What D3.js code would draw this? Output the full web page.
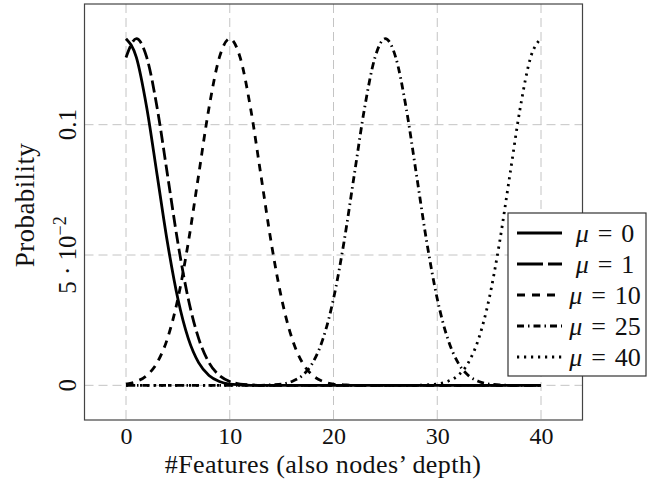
<!DOCTYPE html>
<html>
<head>
<meta charset="utf-8">
<script src="https://cdnjs.cloudflare.com/ajax/libs/d3/7.8.5/d3.min.js"></script>
<style>
  body { margin: 0; background: #fff; }
  text { font-family: "Liberation Serif", "DejaVu Serif", serif; fill: #111; }
</style>
</head>
<body>
<div id="chart"></div>
<script>
// x positions (#features)
const xs = [0, 1, 2, 3, 4, 5, 6, 7, 8, 9, 10, 11, 12, 13, 14, 15, 16, 17, 18, 19, 20,
  21, 22, 23, 24, 25, 26, 27, 28, 29, 30, 31, 32, 33, 34, 35, 36, 37, 38, 39, 40];

// probabilities, one array per curve
const mu0 = [0.1330, 0.1258, 0.1065, 0.0807, 0.0547, 0.0332, 0.0180, 0.0087, 0.0038, 0.0015, 0.0005,
  0.0002, 0, 0, 0, 0, 0, 0, 0, 0, 0, 0, 0, 0, 0, 0, 0, 0, 0, 0, 0, 0, 0, 0, 0, 0, 0, 0, 0, 0, 0];
const mu1 = [0.1258, 0.1330, 0.1258, 0.1065, 0.0807, 0.0547, 0.0332, 0.0180, 0.0087, 0.0038, 0.0015,
  0.0005, 0.0002, 0, 0, 0, 0, 0, 0, 0, 0, 0, 0, 0, 0, 0, 0, 0, 0, 0, 0, 0, 0, 0, 0, 0, 0, 0, 0, 0, 0];
const mu10 = [0.0005, 0.0015, 0.0038, 0.0087, 0.0180, 0.0332, 0.0547, 0.0807, 0.1065, 0.1258, 0.1330,
  0.1258, 0.1065, 0.0807, 0.0547, 0.0332, 0.0180, 0.0087, 0.0038, 0.0015, 0.0005,
  0.0002, 0, 0, 0, 0, 0, 0, 0, 0, 0, 0, 0, 0, 0, 0, 0, 0, 0, 0, 0];
const mu25 = [0, 0, 0, 0, 0, 0, 0, 0, 0, 0, 0, 0, 0, 0, 0.0002, 0.0005, 0.0015, 0.0038, 0.0087, 0.0180,
  0.0332, 0.0547, 0.0807, 0.1065, 0.1258, 0.1330, 0.1258, 0.1065, 0.0807, 0.0547, 0.0332,
  0.0180, 0.0087, 0.0038, 0.0015, 0.0005, 0.0002, 0, 0, 0, 0];
const mu40 = [0, 0, 0, 0, 0, 0, 0, 0, 0, 0, 0, 0, 0, 0, 0, 0, 0, 0, 0, 0, 0, 0, 0, 0, 0, 0, 0, 0, 0,
  0.0002, 0.0005, 0.0015, 0.0038, 0.0087, 0.0180, 0.0332, 0.0547, 0.0807, 0.1065, 0.1258, 0.1330];

const seriesNames = ["0", "1", "10", "25", "40"];
const seriesValues = [mu0, mu1, mu10, mu25, mu40];

const xTicks = [0, 10, 20, 30, 40];
const yTicks = [0, 0.05, 0.1];

const dashes = [null, "12,5", "7.5,6.5", "7,4,1.5,4", "2.2,4.8"];
const legendDashes = [null, "26,5,14,5", "8,7", "7,4,1.5,4", "2.2,4.8"];

const W = 648, H = 491;
const margin = { top: 4, right: 65.5, bottom: 71, left: 84.5 };
const width = W - margin.left - margin.right,
  height = H - margin.top - margin.bottom;

const svg = d3.select("#chart").append("svg")
  .attr("width", W).attr("height", H);

const g = svg.append("g")
  .attr("transform", "translate(" + margin.left + "," + margin.top + ")");

const x = d3.scaleLinear().domain([-4, 44]).range([0, width]);
const y = d3.scaleLinear().domain([-0.0133, 0.1463]).range([height, 0]);

// grid
g.append("g").selectAll("line").data(xTicks).join("line")
  .attr("x1", d => x(d)).attr("x2", d => x(d))
  .attr("y1", 0).attr("y2", height)
  .attr("stroke", "#c4c4c4").attr("stroke-width", 1)
  .attr("stroke-dasharray", "9,5");
g.append("g").selectAll("line").data(yTicks).join("line")
  .attr("y1", d => y(d)).attr("y2", d => y(d))
  .attr("x1", 0).attr("x2", width)
  .attr("stroke", "#c4c4c4").attr("stroke-width", 1)
  .attr("stroke-dasharray", "9,5");

// x axis labels
const xAxis = g.append("g")
  .attr("transform", "translate(0," + height + ")")
  .call(d3.axisBottom(x).tickValues(xTicks).tickSize(0).tickPadding(0).tickFormat(d3.format("d")));
xAxis.select(".domain").remove();
xAxis.selectAll("text")
  .attr("y", 24).attr("dy", null)
  .style("font-size", "24px").style("font-family", "Liberation Serif");

// y axis labels (rotated)
const yLab = g.append("g");
yTicks.forEach(t => {
  const txt = yLab.append("text")
    .attr("transform", "translate(-9," + y(t) + ") rotate(-90)")
    .attr("text-anchor", "middle")
    .style("font-size", "25px");
  if (t === 0.05) {
    txt.append("tspan").text("5 · 10");
    txt.append("tspan").attr("dy", -10).style("font-size", "18px").text("−2");
  } else {
    txt.text(t === 0 ? "0" : "0.1");
  }
});

// curves
const line = d3.line()
  .curve(d3.curveMonotoneX)
  .x((d, i) => x(xs[i]))
  .y(d => y(d));

seriesValues.forEach((vals, k) => {
  g.append("path")
    .datum(vals)
    .attr("fill", "none")
    .attr("stroke", "#000")
    .attr("stroke-width", 2.8)
    .attr("stroke-linejoin", "round")
    .attr("stroke-dasharray", dashes[k])
    .attr("d", line);
});

// frame
g.append("rect")
  .attr("x", 0).attr("y", 0).attr("width", width).attr("height", height)
  .attr("fill", "none").attr("stroke", "#444").attr("stroke-width", 1.2);

// axis titles
svg.append("text")
  .attr("x", 323).attr("y", 473)
  .attr("text-anchor", "middle")
  .style("font-size", "26px").style("letter-spacing", "0.4px")
  .text("#Features (also nodes’ depth)");

svg.append("text")
  .attr("transform", "translate(34,205) rotate(-90)")
  .attr("text-anchor", "middle")
  .style("font-size", "27px").style("letter-spacing", "0.4px")
  .text("Probability");

// legend
const leg = svg.append("g").attr("transform", "translate(508,213)");
leg.append("rect")
  .attr("width", 138).attr("height", 163)
  .attr("fill", "#fff").attr("stroke", "#333").attr("stroke-width", 1.2);

seriesNames.forEach((name, k) => {
  const cy = 20 + k * 31;
  leg.append("line")
    .attr("x1", 9).attr("x2", 54).attr("y1", cy).attr("y2", cy)
    .attr("stroke", "#000").attr("stroke-width", 2.8)
    .attr("stroke-dasharray", legendDashes[k]);
  const t = leg.append("text")
    .attr("x", 97).attr("y", cy + 9)
    .attr("text-anchor", "middle")
    .style("font-size", "26px");
  t.append("tspan").style("font-style", "italic").text("μ");
  t.append("tspan").attr("dx", 9).text("=");
  t.append("tspan").attr("dx", 9).text(name);
});
</script>
</body>
</html>
